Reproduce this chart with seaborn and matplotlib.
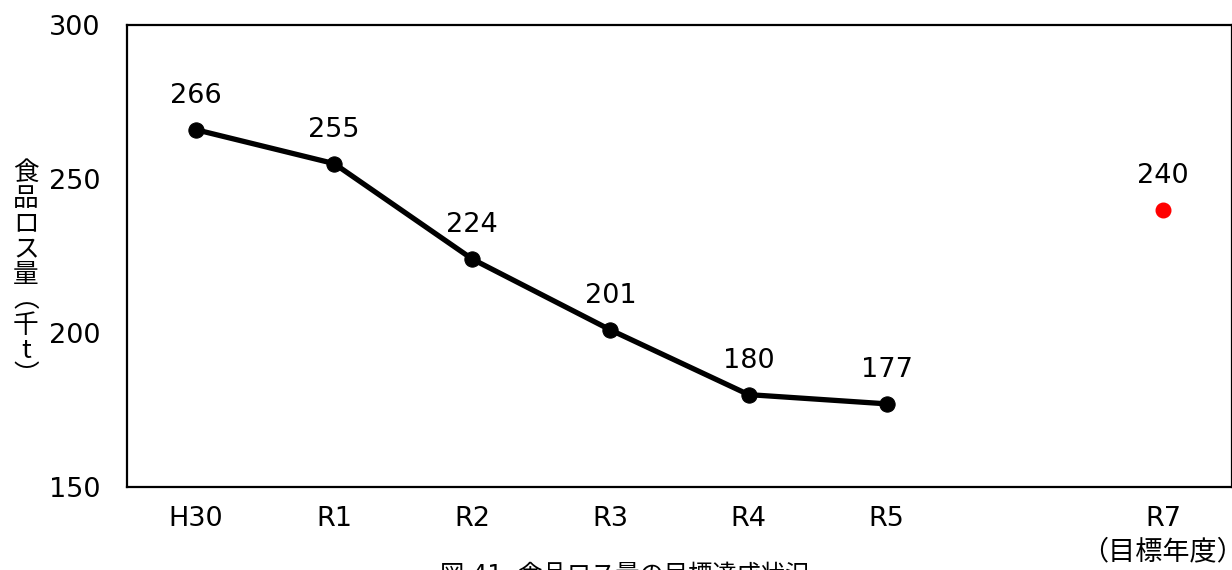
import matplotlib
matplotlib.use("Agg")
import matplotlib.pyplot as plt
import pandas as pd
import seaborn as sns

years = ["H30", "R1", "R2", "R3", "R4", "R5"]
loss = [266, 255, 224, 201, 180, 177]
target_label = "R7\n（目標年度）"
target_value = 240

sns.set_theme(style="white")
plt.rcParams["font.family"] = ["DejaVu Sans", "Noto Sans CJK JP"]
plt.rcParams["text.color"] = "black"
plt.rcParams["xtick.color"] = "black"
plt.rcParams["ytick.color"] = "black"

df = pd.DataFrame({"x": range(len(years)), "loss": loss})
target_x = len(years) + 1  # one empty slot (R6) before the target year

fig = plt.figure(figsize=(12.32, 5.70), dpi=100)
ax = fig.add_axes([0.1031, 0.1456, 0.8969, 0.8105])

sns.lineplot(data=df, x="x", y="loss", color="black", linewidth=3.8,
             marker="o", markersize=11, markeredgecolor="black", ax=ax)
ax.plot([target_x], [target_value], "o", color="#ff0000", markersize=10.5,
        markeredgecolor="#ff0000")

for x, v in zip(df["x"], df["loss"]):
    ax.annotate(str(v), (x, v), xytext=(0, 15), textcoords="offset points",
                ha="center", va="bottom", fontsize=19.5)
ax.annotate(str(target_value), (target_x, target_value), xytext=(0, 15),
            textcoords="offset points", ha="center", va="bottom", fontsize=19.5)

ax.set_xlim(-0.5, target_x + 0.5)
ax.set_ylim(150, 300)
ax.set_yticks([150, 200, 250, 300])
ax.set_xticks(list(df["x"]) + [target_x])
ax.set_xticklabels(years + [target_label], fontsize=19.5, linespacing=1.35)
ax.tick_params(axis="y", labelsize=19.5, length=0, pad=19)
ax.tick_params(axis="x", length=0, pad=14)
ax.set_xlabel("")
ax.set_ylabel("")

for s in ["left", "bottom", "top", "right"]:
    ax.spines[s].set_color("black")
    ax.spines[s].set_linewidth(1.6)

fig.text(0.021, 0.518, "\n".join("食品ロス量︵千t︶"), ha="center", va="center",
         fontsize=18.5, linespacing=0.97, family=["Noto Sans CJK JP", "DejaVu Sans"])
fig.text(0.507, 0.012, "図 41  食品ロス量の目標達成状況", ha="center",
         va="top", fontsize=17.5)

fig.savefig("out.png", dpi=100)
